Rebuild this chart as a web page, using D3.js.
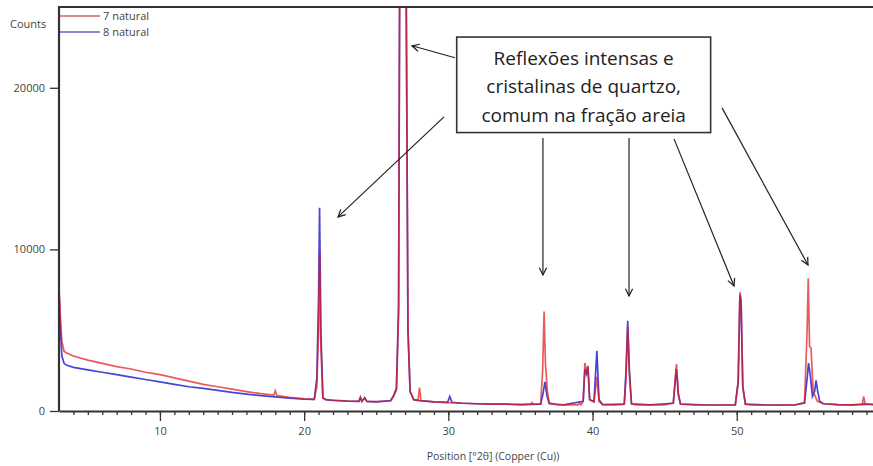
<!DOCTYPE html>
<html>
<head>
<meta charset="utf-8">
<script src="https://cdn.jsdelivr.net/npm/d3@7"></script>
<style>
    body { margin: 0; background: #fff; }
    svg { display: block; font-family: "Open Sans", sans-serif; }
</style>
</head>
<body>
<svg id="chart" width="873" height="466"></svg>
<script>
"use strict";

// [2theta, counts]
var sample7 = [
    [3.0, 7600], [3.1, 5800], [3.2, 4300], [3.35, 3700], [3.5, 3600], [4, 3400], [5, 3150],
    [6, 2950], [7, 2750], [8, 2600], [9, 2400], [10, 2250], [11, 2050], [12, 1850], [13, 1650],
    [14, 1500], [15, 1350], [16, 1200], [17, 1070], [17.9, 980], [18.0, 1250], [18.1, 960],
    [19, 850], [20, 750], [20.7, 720], [20.88, 1500], [21.0, 5000], [21.07, 9800], [21.16, 4000],
    [21.3, 800], [21.5, 700], [22, 680], [23, 620], [23.8, 600], [23.9, 820], [24.0, 600],
    [24.2, 800], [24.35, 590], [25, 580], [26, 620], [26.2, 900], [26.4, 1300], [26.55, 6000],
    [26.62, 25500], [26.75, 60000], [26.95, 60000], [27.08, 25500], [27.2, 5000], [27.35, 1200],
    [27.6, 700], [27.9, 650], [28.0, 1450], [28.1, 650], [29, 560], [30, 520], [31, 480],
    [32, 450], [33, 430], [34, 420], [35, 400], [35.7, 420], [35.8, 520], [35.9, 420],
    [36.4, 420], [36.54, 2500], [36.64, 6150], [36.73, 3000], [36.87, 1200], [37.0, 500],
    [37.5, 400], [38, 380], [39.0, 380], [39.1, 500], [39.2, 380], [39.35, 600], [39.47, 2970],
    [39.58, 2400], [39.68, 2800], [39.8, 700], [40.1, 550], [40.3, 2120], [40.45, 600],
    [40.7, 400], [41.5, 380], [42.2, 420], [42.32, 2000], [42.44, 5200], [42.56, 2200],
    [42.7, 450], [43, 380], [44, 380], [45.0, 370], [45.6, 500], [45.75, 2200], [45.82, 2900],
    [45.95, 1100], [46.1, 430], [47, 380], [48, 370], [49, 370], [49.9, 380], [50.1, 1800],
    [50.22, 7350], [50.3, 6900], [50.42, 1500], [50.6, 420], [51, 370], [52, 370], [53, 360],
    [54, 370], [54.7, 500], [54.88, 5000], [54.96, 8220], [55.05, 4000], [55.15, 3900],
    [55.3, 1200], [55.6, 600], [56, 450], [57, 400], [58, 380], [58.7, 400], [58.8, 900],
    [58.9, 450], [59.5, 400], [60, 380]
];

var sample8 = [
    [3.0, 7400], [3.1, 5000], [3.2, 3400], [3.35, 2950], [3.5, 2850], [4, 2700], [5, 2550],
    [6, 2400], [7, 2250], [8, 2100], [9, 1950], [10, 1800], [11, 1650], [12, 1500], [13, 1400],
    [14, 1280], [15, 1150], [16, 1050], [17, 950], [18, 870], [19, 800], [20, 730], [20.7, 720],
    [20.88, 2000], [21.0, 7000], [21.07, 12570], [21.16, 5000], [21.3, 800], [21.5, 700],
    [22, 650], [23, 610], [23.8, 600], [23.9, 850], [24.0, 600], [24.2, 820], [24.35, 590],
    [25, 570], [26, 650], [26.2, 950], [26.4, 1400], [26.55, 6500], [26.62, 25500],
    [26.75, 60000], [26.95, 60000], [27.08, 25500], [27.2, 5000], [27.35, 1200], [27.6, 700],
    [28, 640], [29, 560], [29.95, 540], [30.1, 900], [30.25, 540], [31, 480], [32, 450],
    [33, 430], [34, 420], [35, 400], [36.4, 420], [36.55, 1000], [36.7, 1800], [36.85, 900],
    [37.0, 450], [38, 380], [39.35, 600], [39.47, 2600], [39.58, 2300], [39.68, 2740],
    [39.8, 700], [40.1, 600], [40.3, 3720], [40.45, 700], [40.7, 400], [42.2, 420],
    [42.32, 2500], [42.44, 5590], [42.56, 2400], [42.7, 450], [44, 380], [45.6, 480],
    [45.75, 2000], [45.82, 2600], [45.95, 1000], [46.1, 430], [48, 370], [49.9, 380],
    [50.1, 1800], [50.22, 7200], [50.3, 6800], [50.42, 1500], [50.6, 420], [52, 370],
    [54, 370], [54.7, 500], [54.88, 2000], [54.98, 2970], [55.1, 2200], [55.25, 900],
    [55.4, 1200], [55.5, 1900], [55.6, 1300], [55.75, 600], [56, 450], [57, 400], [58, 380],
    [58.8, 420], [59.5, 390], [60, 380]
];

var seriesNames = ['7 natural', '8 natural'];
var xTickValues = [10, 20, 30, 40, 50];
var yTickValues = [0, 10000, 20000];

var noteLines = ['Reflexões intensas e', 'cristalinas de quartzo,', 'comum na fração areia'];
// note box corners and arrows, in [2theta, counts]
var noteBox = [[30.58, 23140], [48.19, 17230]];
var noteArrows = [
    [[30.46, 21860], [27.48, 22600]],
    [[29.70, 18200], [22.35, 12010]],
    [[36.56, 16900], [36.56, 8420]],
    [[42.53, 16900], [42.53, 7120]],
    [[45.65, 16840], [49.81, 7740]],
    [[48.98, 18760], [54.94, 9040]]
];

var margin = { top: 7, left: 59, bottom: 55 };
var svg = d3.select('#chart');
var height = +svg.attr('height');

var x = d3.scaleLinear().domain([3, 60]).range([margin.left, margin.left + 57 * 14.42]);
var y = d3.scaleLinear().domain([0, 25000]).range([height - margin.bottom, margin.top]);

var axisColor = '#333';
var textColor = '#444';

svg.append('clipPath').attr('id', 'plotClip')
    .append('rect')
    .attr('x', x(3)).attr('y', y(25000))
    .attr('width', x(60) - x(3)).attr('height', y(0) - y(25000));

var line = d3.line().x(function(d) { return x(d[0]); }).y(function(d) { return y(d[1]); });

var plot = svg.append('g').attr('clip-path', 'url(#plotClip)');

plot.append('path').datum(sample8)
    .attr('d', line)
    .attr('fill', 'none')
    .attr('stroke', '#2424d4')
    .attr('stroke-opacity', 0.85)
    .attr('stroke-width', 1.7);

plot.append('path').datum(sample7)
    .attr('d', line)
    .attr('fill', 'none')
    .attr('stroke', '#e01c1c')
    .attr('stroke-opacity', 0.72)
    .attr('stroke-width', 1.7);

// x axis: major + minor ticks
var xAxis = svg.append('g').attr('transform', 'translate(0,' + y(0) + ')');
xAxis.append('g')
    .call(d3.axisBottom(x).tickValues(d3.range(4, 60)).tickSize(4).tickFormat(''))
    .call(function(g) { g.select('.domain').remove(); });
xAxis.append('g')
    .call(d3.axisBottom(x).tickValues(xTickValues).tickSize(10).tickPadding(6).tickSizeOuter(0));
xAxis.selectAll('line').attr('stroke', axisColor).attr('stroke-width', 1.3);
xAxis.selectAll('.domain').attr('stroke', axisColor).attr('stroke-width', 2.2);
xAxis.selectAll('text').attr('fill', textColor).style('font-size', '11px')
    .style('font-family', '"Open Sans", sans-serif');

var yAxis = svg.append('g').attr('transform', 'translate(' + x(3) + ',0)')
    .call(d3.axisLeft(y).tickValues(yTickValues).tickFormat(d3.format('d'))
        .tickSize(9).tickPadding(5).tickSizeOuter(0));
yAxis.select('.domain').remove();
yAxis.selectAll('line').attr('stroke', axisColor).attr('stroke-width', 1.3);
yAxis.selectAll('text').attr('fill', textColor).style('font-size', '11px')
    .style('font-family', '"Open Sans", sans-serif');

// frame: left and top edges
svg.append('path')
    .attr('d', 'M' + x(3) + ',' + y(0) + 'V' + y(25000) + 'H' + x(60))
    .attr('fill', 'none')
    .attr('stroke', axisColor)
    .attr('stroke-width', 2.2);

svg.append('text')
    .attr('x', 10).attr('y', 28)
    .attr('fill', textColor)
    .style('font-size', '11px')
    .text('Counts');

svg.append('text')
    .attr('x', 493).attr('y', 460)
    .attr('text-anchor', 'middle')
    .attr('fill', textColor)
    .style('font-size', '10.5px')
    .text('Position [°2θ] (Copper (Cu))');

// legend
var legendColors = ['#d0606a', '#6a5ad0'];
var legend = svg.append('g').selectAll('g')
    .data(seriesNames)
    .join('g')
    .attr('transform', function(d, i) { return 'translate(' + (x(3) + 1) + ',' + (16 + i * 16) + ')'; });
legend.append('line')
    .attr('x1', 0).attr('x2', 40)
    .attr('stroke', function(d, i) { return legendColors[i]; })
    .attr('stroke-width', 1.3);
legend.append('text')
    .attr('x', 43).attr('dy', '0.35em')
    .attr('fill', textColor)
    .style('font-size', '11px')
    .text(function(d) { return d; });

// annotation
svg.append('defs').append('marker')
    .attr('id', 'arrowHead')
    .attr('viewBox', '0 0 10 10')
    .attr('refX', 9).attr('refY', 5)
    .attr('markerWidth', 9).attr('markerHeight', 9)
    .attr('markerUnits', 'userSpaceOnUse')
    .attr('orient', 'auto')
    .append('path')
    .attr('d', 'M1,1L9,5L1,9')
    .attr('fill', 'none')
    .attr('stroke', '#222')
    .attr('stroke-width', 1.4);

svg.append('g').selectAll('line')
    .data(noteArrows)
    .join('line')
    .attr('x1', function(d) { return x(d[0][0]); })
    .attr('y1', function(d) { return y(d[0][1]); })
    .attr('x2', function(d) { return x(d[1][0]); })
    .attr('y2', function(d) { return y(d[1][1]); })
    .attr('stroke', '#222')
    .attr('stroke-width', 1.2)
    .attr('marker-end', 'url(#arrowHead)');

var bx0 = x(noteBox[0][0]), by0 = y(noteBox[0][1]);
var bx1 = x(noteBox[1][0]), by1 = y(noteBox[1][1]);

svg.append('rect')
    .attr('x', bx0).attr('y', by0)
    .attr('width', bx1 - bx0).attr('height', by1 - by0)
    .attr('fill', '#fff')
    .attr('stroke', '#333')
    .attr('stroke-width', 1.6);

svg.append('g').selectAll('text')
    .data(noteLines)
    .join('text')
    .attr('x', (bx0 + bx1) / 2)
    .attr('y', function(d, i) { return by0 + 28 + i * 28.3; })
    .attr('text-anchor', 'middle')
    .attr('fill', '#222')
    .style('font-size', '19px')
    .text(function(d) { return d; });
</script>
</body>
</html>
